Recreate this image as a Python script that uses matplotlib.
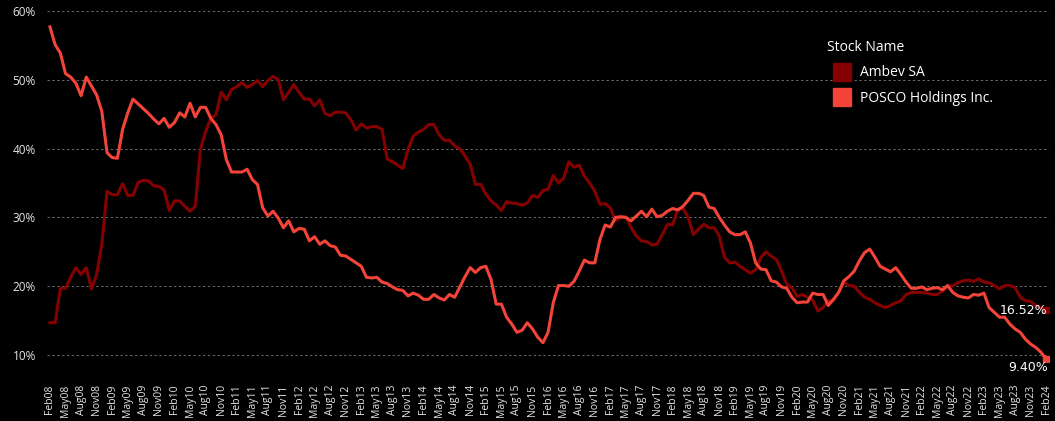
import numpy as np
import pandas as pd
import matplotlib
matplotlib.use('Agg')
import matplotlib.pyplot as plt
from matplotlib.lines import Line2D

# monthly, Feb 2008 .. Feb 2024
dates = pd.date_range('2008-02-01', '2024-02-01', freq='MS')

ambev = [
    14.7, 14.7, 19.7, 19.7, 21.3, 22.7, 21.7, 22.7, 19.6, 21.7,
    26.1, 33.8, 33.3, 33.3, 34.9, 33.2, 33.2, 35.1, 35.4, 35.3,
    34.6, 34.5, 34.0, 31.0, 32.4, 32.4, 31.6, 30.9, 31.6, 39.9,
    42.5, 44.4, 44.9, 48.2, 47.1, 48.6, 49.0, 49.6, 48.9, 49.3,
    49.9, 49.0, 49.9, 50.5, 50.0, 47.1, 48.2, 49.3, 48.2, 47.2,
    47.2, 46.2, 47.1, 45.1, 44.8, 45.3, 45.3, 45.2, 44.2, 42.7,
    43.6, 43.0, 43.2, 43.2, 42.8, 38.5, 38.1, 37.6, 37.1, 39.9,
    41.8, 42.4, 42.8, 43.5, 43.5, 42.0, 41.2, 41.2, 40.4, 40.0,
    38.9, 37.7, 34.8, 34.8, 33.4, 32.4, 31.8, 31.0, 32.3, 32.1,
    32.0, 31.8, 32.1, 33.2, 32.9, 33.9, 34.1, 36.1, 35.0, 35.7,
    38.1, 37.3, 37.6, 36.0, 35.0, 33.8, 31.9, 32.0, 31.4, 29.5,
    30.0, 30.1, 28.5, 27.3, 26.6, 26.5, 26.0, 26.1, 27.5, 29.0,
    28.9, 31.2, 31.3, 30.0, 27.5, 28.3, 29.0, 28.5, 28.5, 27.3,
    24.2, 23.4, 23.5, 22.9, 22.4, 21.9, 22.4, 24.2, 25.0, 24.4,
    23.9, 22.2, 20.3, 19.8, 18.5, 18.8, 18.4, 18.0, 16.4, 16.9,
    17.9, 17.9, 19.1, 20.6, 20.1, 20.0, 19.1, 18.4, 18.1, 17.6,
    17.2, 16.9, 17.2, 17.6, 17.9, 18.8, 19.1, 19.1, 19.1, 19.0,
    18.8, 18.8, 19.3, 19.9, 20.1, 20.5, 20.8, 20.9, 20.7, 21.1,
    20.6, 20.5, 20.1, 19.6, 20.1, 20.1, 19.8, 18.4, 17.9, 17.8,
    17.2, 16.9, 16.52,
]

posco = [
    57.7, 55.1, 53.9, 50.9, 50.4, 49.5, 47.7, 50.4, 49.1, 47.8,
    45.4, 39.4, 38.7, 38.6, 42.8, 45.2, 47.2, 46.5, 45.8, 45.1,
    44.3, 43.6, 44.4, 43.1, 43.8, 45.2, 44.6, 46.6, 44.6, 46.0,
    46.0, 44.4, 43.5, 42.0, 38.4, 36.6, 36.6, 36.6, 37.0, 35.5,
    34.8, 31.4, 30.2, 30.9, 29.9, 28.5, 29.5, 27.9, 28.4, 28.3,
    26.6, 27.2, 26.1, 26.6, 25.9, 25.7, 24.5, 24.4, 23.9, 23.4,
    22.9, 21.3, 21.2, 21.3, 20.6, 20.4, 19.9, 19.5, 19.4, 18.6,
    19.0, 18.7, 18.1, 18.1, 18.8, 18.3, 18.0, 18.8, 18.4, 19.9,
    21.4, 22.7, 22.0, 22.7, 22.9, 21.0, 17.4, 17.4, 15.5, 14.5,
    13.3, 13.6, 14.7, 13.8, 12.6, 11.8, 13.3, 17.6, 20.1, 20.1,
    20.0, 20.7, 22.2, 23.8, 23.4, 23.4, 26.8, 28.9, 28.6, 30.0,
    30.1, 30.0, 29.5, 30.2, 30.9, 30.1, 31.2, 30.1, 30.3, 30.9,
    31.3, 31.1, 31.6, 32.5, 33.5, 33.5, 33.2, 31.5, 31.3, 30.0,
    28.9, 27.9, 27.5, 27.5, 27.9, 26.3, 23.4, 22.5, 22.4, 20.8,
    20.6, 19.9, 19.7, 18.4, 17.6, 17.7, 17.7, 19.0, 18.8, 18.8,
    17.2, 18.1, 19.1, 20.8, 21.4, 22.2, 23.7, 24.9, 25.4, 24.2,
    22.9, 22.5, 22.1, 22.7, 21.7, 20.6, 19.7, 19.7, 19.9, 19.5,
    19.7, 19.8, 19.5, 20.1, 19.1, 18.6, 18.4, 18.3, 18.8, 18.7,
    19.0, 16.9, 16.2, 15.5, 15.5, 14.5, 13.8, 13.3, 12.3, 11.6,
    11.1, 10.4, 9.40,
]

names = ['Ambev SA', 'POSCO Holdings Inc.']
colors = ['#850000', '#F4443A']
y_ticks = [10, 20, 30, 40, 50, 60]

font = ['Open Sans', 'DejaVu Sans']
plt.rcParams['font.family'] = font

fig = plt.figure(figsize=(10.55, 4.21), dpi=100, facecolor='black')
ax = fig.add_axes([0.0445, 0.14, 0.95, 0.841])
ax.set_facecolor('black')

x = np.arange(len(dates))
for vals, c in zip([ambev, posco], colors):
    ax.plot(x, vals, color=c, lw=2.2, solid_joinstyle='round')
    ax.plot(x[-1], vals[-1], marker='s', ms=4.5, color=c, ls='')

ax.set_xlim(-0.58, len(dates) - 1 + 0.58)
ax.set_ylim(8.98, 60.44)

ax.set_yticks(y_ticks)
ax.set_yticklabels([f'{v}%' for v in y_ticks])
ax.set_xticks(x[::3])
ax.set_xticklabels(dates[::3].strftime('%b%y'), rotation=90)
ax.tick_params(axis='both', length=0, colors='#e6e6e6')
ax.tick_params(axis='y', pad=8, labelsize=8.5)
ax.tick_params(axis='x', pad=16, labelsize=7.5)
ax.grid(axis='y', color='#6a6a6a', lw=0.7, ls=(0, (2.5, 2.5)))
ax.set_axisbelow(True)
for s in ax.spines.values():
    s.set_visible(False)

# end labels
ax.text(x[-1] + 0.3, ambev[-1], f'{ambev[-1]:.2f}%', color='white', fontsize=9,
        ha='right', va='center', family='DejaVu Sans')
ax.annotate(f'{posco[-1]:.2f}%', (x[-1] + 0.3, posco[-1]), xytext=(0, -1),
            textcoords='offset points', color='white', fontsize=9,
            ha='right', va='top', family='DejaVu Sans', annotation_clip=False)

handles = [Line2D([], [], marker='s', ls='', ms=13, color=c, label=n)
           for n, c in zip(names, colors)]
leg = ax.legend(handles=handles, title='Stock Name', frameon=False,
                loc='upper left', bbox_to_anchor=(0.784, 0.905),
                bbox_transform=fig.transFigure, fontsize=10, title_fontsize=10,
                labelspacing=0.75, handletextpad=0.15, alignment='left',
                handlelength=2.2, borderaxespad=0, borderpad=0)
for t in leg.get_texts():
    t.set_color('white')
leg.get_title().set_color('white')

fig.savefig('out.png', dpi=100, facecolor='black')
